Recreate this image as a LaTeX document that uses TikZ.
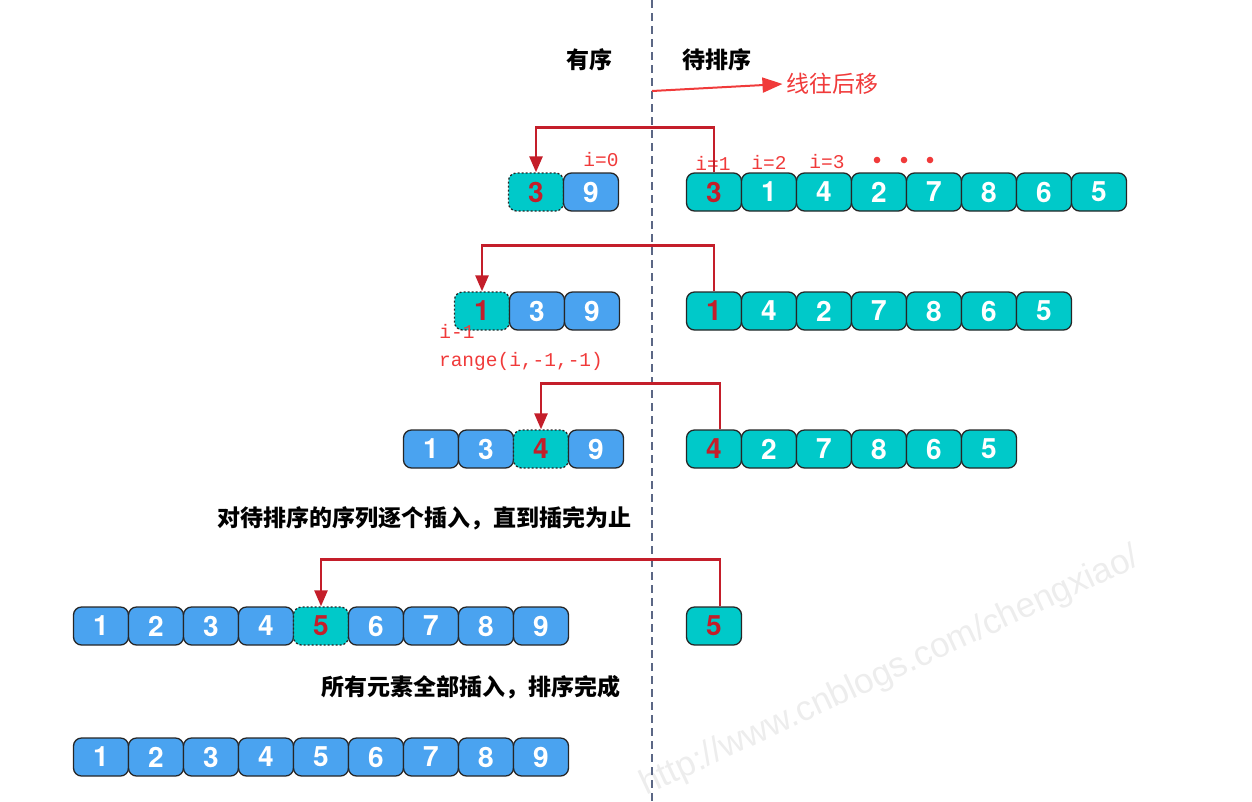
\documentclass[tikz,border=0pt]{standalone}
\usepackage{fontspec}
\newfontfamily\cjk{Noto Sans CJK SC}
\newfontfamily\digits{TeX Gyre Heros}
\newfontfamily\codefont{Liberation Mono}
\newfontfamily\markfont{Liberation Sans}
\usetikzlibrary{positioning, arrows.meta}
\definecolor{sortblue}{HTML}{4AA3F0}
\definecolor{sortteal}{HTML}{00C9C9}
\definecolor{movered}{HTML}{C41E2A}
\definecolor{notered}{HTML}{F03A3A}
\definecolor{sepgray}{HTML}{5B6785}

\begin{document}
\begin{tikzpicture}[
	x=1pt, y=-1pt,
	box/.style={rectangle, rounded corners=8pt, draw=black!85, line width=1.3pt, minimum width=55pt, minimum height=38pt, inner sep=0pt, text=white, font=\digits\bfseries\fontsize{28}{28}\selectfont},
	done/.style={box, fill=sortblue},
	todo/.style={box, fill=sortteal},
	cur/.style={text=movered},
	slot/.style={box, fill=sortteal, text=movered, dash pattern=on 2pt off 2pt},
	move/.style={draw=movered, line width=2.6pt, -{Triangle[length=16pt, width=13pt]}},
	shiftarrow/.style={draw=notered, line width=2pt, -{Triangle[length=20pt, width=15pt]}},
	sep/.style={draw=sepgray, line width=1.4pt, dash pattern=on 8pt off 5pt},
	title/.style={font=\cjk\bfseries\fontsize{23}{23}\selectfont},
	note/.style={text=notered, font=\codefont\fontsize{19.5}{19.5}\selectfont},
	watermark/.style={text=black!7, rotate=25, font=\markfont\fontsize{35}{35}\selectfont}
]
\useasboundingbox (0,0) rectangle (1252,801);

\node[watermark] (wm) at (890,672) {http://www.cnblogs.com/chengxiao/};

\coordinate (septop) at (652,0);
\coordinate (sepbot) at (652,801);
\draw[sep] (septop) -- (sepbot);

\node[title] (sorted) at (589,60) {有序};
\node[title] (unsorted) at (717,60) {待排序};
\node[text=notered, font=\cjk\fontsize{23}{23}\selectfont] (shiftlbl) at (832,84) {线往后移};
\coordinate (shiftstart) at (652,91);
\draw[shiftarrow] (shiftstart) -- (shiftlbl.west);

% row 1
\node[slot] (al1) at (536,192) {3};
\node[done] (al2) at (591,192) {9};
\node[todo, cur] (ar1) at (714,192) {3};
\foreach \n [count=\k from 2] in {1,4,2,7,8,6,5}
	\node[todo] (ar\k) at ({659+55*\k},192) {\n};
\node[note] (i0) at (601,160) {i=0};
\node[note] (i1) at (713,163) {i=1};
\node[note] (i2) at (769,162) {i=2};
\node[note] (i3) at (827,162) {i=3};
\foreach \x in {877,904,930}
	\fill[notered] (\x,160) circle (3.3);
\draw[move] (ar1.north) -- ++(0,-45) -| (al1.north);

% row 2
\node[slot] (bl1) at (482,311) {1};
\foreach \n [count=\k from 2] in {3,9}
	\node[done] (bl\k) at ({427+55*\k},311) {\n};
\node[todo, cur] (br1) at (714,311) {1};
\foreach \n [count=\k from 2] in {4,2,7,8,6,5}
	\node[todo] (br\k) at ({659+55*\k},311) {\n};
\node[note] (iminus) at (457,331) {i-1};
\node[note] (rng) at (521,361) {range(i,-1,-1)};
\draw[move] (br1.north) -- ++(0,-46) -| (bl1.north);

% row 3
\foreach \n [count=\k] in {1,3}
	\node[done] (cl\k) at ({376+55*\k},449) {\n};
\node[slot] (cl3) at (541,449) {4};
\node[done] (cl4) at (596,449) {9};
\node[todo, cur] (cr1) at (714,449) {4};
\foreach \n [count=\k from 2] in {2,7,8,6,5}
	\node[todo] (cr\k) at ({659+55*\k},449) {\n};
\draw[move] ([xshift=6pt]cr1.north) -- ++(0,-46) -| (cl3.north);

\node[title] (steptxt) at (424,518) {对待排序的序列逐个插入，直到插完为止};

% row 4
\foreach \n [count=\k] in {1,2,3,4}
	\node[done] (dl\k) at ({46+55*\k},626) {\n};
\node[slot] (dl5) at (321,626) {5};
\foreach \n [count=\k from 6] in {6,7,8,9}
	\node[done] (dl\k) at ({46+55*\k},626) {\n};
\node[todo, cur] (dr1) at (714,626) {5};
\draw[move] ([xshift=6pt]dr1.north) -- ++(0,-47) -| (dl5.north);

\node[title] (finish) at (471,687) {所有元素全部插入，排序完成};

% row 5
\foreach \n [count=\k] in {1,...,9}
	\node[done] (el\k) at ({46+55*\k},757) {\n};

\end{tikzpicture}
\end{document}
